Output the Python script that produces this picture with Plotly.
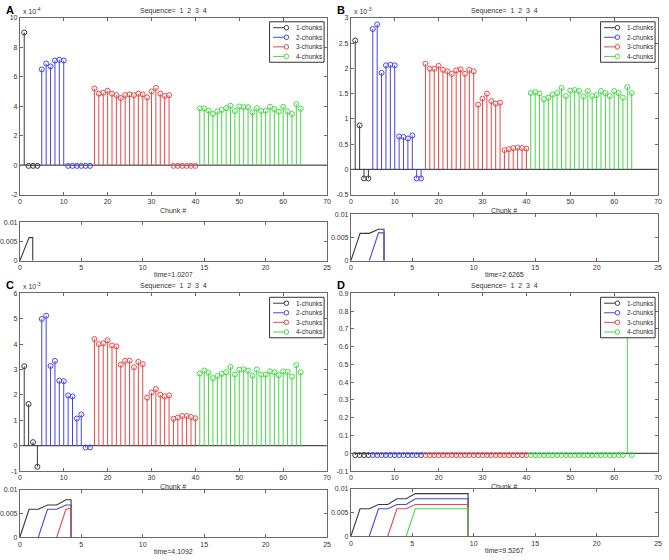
import plotly.graph_objects as go

W, H = 669, 560

# chunk index of each stem group
chunks_1 = [1, 2, 3, 4]
chunks_2 = list(range(5, 17))
chunks_3 = list(range(17, 41))
chunks_4 = list(range(41, 65))

series_names = ["1-chunks", "2-chunks", "3-chunks", "4-chunks"]
series_colors = ["#3a3a3a", "#4646e4", "#e64848", "#48d848"]

# panel A (x 10^-4)
A_1 = [9.0, -0.05, -0.05, -0.05]
A_2 = [6.5, 6.9, 6.7, 7.1, 7.15, 7.1, -0.05, -0.05, -0.05, -0.05, -0.05, -0.05]
A_3 = [5.2, 4.85, 4.9, 5.05, 4.85, 4.75, 4.55, 4.75, 4.8, 4.75, 4.85, 4.8,
       4.6, 5.0, 5.25, 4.85, 4.7, 4.75, -0.05, -0.05, -0.05, -0.05, -0.05, -0.05]
A_4 = [3.85, 3.85, 3.7, 3.47, 3.65, 3.75, 3.87, 4.03, 3.67, 3.98, 3.94, 3.94,
       3.58, 3.87, 3.67, 3.7, 3.96, 3.8, 3.62, 3.96, 3.65, 3.47, 4.14, 3.83]

# panel B (x 10^-3)
B_1 = [2.55, 0.87, -0.18, -0.18]
B_2 = [2.78, 2.87, 1.91, 2.06, 2.07, 2.06, 0.65, 0.64, 0.61, 0.67, -0.18, -0.18]
B_3 = [2.09, 1.99, 1.99, 2.05, 1.97, 1.94, 1.89, 1.96, 1.98, 1.89, 1.97, 1.94,
       1.28, 1.40, 1.50, 1.35, 1.30, 1.32, 0.38, 0.40, 0.42, 0.43, 0.42, 0.41]
B_4 = [1.51, 1.53, 1.50, 1.39, 1.42, 1.48, 1.51, 1.61, 1.45, 1.56, 1.57, 1.55,
       1.44, 1.55, 1.45, 1.47, 1.55, 1.51, 1.45, 1.55, 1.51, 1.42, 1.63, 1.51]

# panel C (x 10^-3)
C_1 = [3.13, 1.64, 0.14, -0.83]
C_2 = [4.99, 5.12, 3.14, 3.34, 2.56, 2.54, 1.98, 1.94, 1.07, 1.23, -0.07, -0.07]
C_3 = [4.2, 4.0, 4.03, 4.15, 3.95, 3.91, 3.19, 3.34, 3.35, 3.09, 3.3, 3.21,
       1.89, 2.09, 2.23, 2.01, 1.94, 1.98, 1.06, 1.11, 1.17, 1.17, 1.13, 1.08]
C_4 = [2.84, 2.96, 2.87, 2.66, 2.74, 2.83, 2.89, 3.10, 2.80, 2.99, 3.01, 2.96,
       2.76, 3.0, 2.80, 2.80, 2.93, 2.89, 2.78, 2.93, 2.91, 2.72, 3.17, 2.89]

# panel D
D_1 = [-0.01] * 4
D_2 = [-0.01] * 12
D_3 = [-0.01] * 24
D_4 = [-0.01] * 22 + [0.78, -0.01]

# lower panels: time courses (time, level) per chunk group
A_t1 = [0, 0.75, 1.05, 1.05]
A_v1 = [0, 0.0060, 0.0060, 0]

B_t1 = [0, 0.75, 1.5, 2.25, 2.7, 2.7]
B_v1 = [0, 0.0059, 0.0059, 0.0068, 0.0068, 0]
B_t2 = [1.5, 2.25, 2.7, 2.7]
B_v2 = [0, 0.0060, 0.0060, 0]

C_t1 = [0, 0.75, 1.5, 2.25, 3.0, 3.75, 4.17, 4.17]
C_v1 = [0, 0.0059, 0.0059, 0.0068, 0.0068, 0.0079, 0.0079, 0]
C_t2 = [1.5, 2.25, 3.0, 3.75, 4.17, 4.17]
C_v2 = [0, 0.0059, 0.0059, 0.0068, 0.0068, 0]
C_t3 = [3.0, 3.75, 4.17, 4.17]
C_v3 = [0, 0.0059, 0.0061, 0]

D_t1 = [0, 0.75, 1.5, 2.25, 3.0, 3.75, 4.5, 5.25, 9.54, 9.54]
D_v1 = [0, 0.0058, 0.0058, 0.0067, 0.0067, 0.0079, 0.0079, 0.0090, 0.0090, 0]
D_t2 = [1.5, 2.25, 3.0, 3.75, 4.5, 5.25, 9.54, 9.54]
D_v2 = [0, 0.0058, 0.0058, 0.0067, 0.0067, 0.0079, 0.0079, 0]
D_t3 = [3.0, 3.75, 4.5, 5.25, 9.54, 9.54]
D_v3 = [0, 0.0058, 0.0058, 0.0067, 0.0067, 0]
D_t4 = [4.5, 5.25, 9.54, 9.54]
D_v4 = [0, 0.0058, 0.0058, 0]

time_labels = ["time=1.0207", "time=2.6265", "time=4.1092", "time=9.5267"]
panel_letters = ["A", "B", "C", "D"]
exponents = ["-4", "-3", "-3", None]
top_ranges = [(-2, 10, 2), (-0.5, 3, 0.5), (-1, 6, 1), (-0.1, 0.9, 0.1)]

# pixel boxes (left, right, top, bottom) of top / bottom axes per panel
top_boxes = [(18, 328, 14, 193), (352, 662, 14, 193),
             (18, 328, 293, 473), (352, 662, 293, 473)]
bot_boxes = [(18, 328, 221, 260), (352, 662, 213, 260),
             (18, 328, 492, 540), (352, 662, 491, 539)]

FONT = "Liberation Sans, Arial, sans-serif"
AXCOL = "#6a6a6a"
TXT = "#333"


def px(x):
    return x / W


def py(y):
    return 1 - y / H


def label(text, x, y, size=7, xanchor="center", color=TXT, family=FONT):
    return dict(text=text, x=px(x), y=py(y), xref="paper", yref="paper",
                xanchor=xanchor, yanchor="middle", showarrow=False,
                font=dict(family=family, size=size, color=color))


def stem_xy(xs, vals):
    sx, sy = [], []
    for x, v in zip(xs, vals):
        sx += [x, x, None]
        sy += [0, v, None]
    return sx, sy


def fmt(v):
    s = f"{v:.3f}".rstrip("0").rstrip(".")
    return "0" if s in ("-0", "0") else s


fig = go.Figure()

stem_data = [
    [A_1, A_2, A_3, A_4],
    [B_1, B_2, B_3, B_4],
    [C_1, C_2, C_3, C_4],
    [D_1, D_2, D_3, D_4],
]
time_data = [
    [(A_t1, A_v1)],
    [(B_t1, B_v1), (B_t2, B_v2)],
    [(C_t1, C_v1), (C_t2, C_v2), (C_t3, C_v3)],
    [(D_t1, D_v1), (D_t2, D_v2), (D_t3, D_v3), (D_t4, D_v4)],
]
groups = [chunks_1, chunks_2, chunks_3, chunks_4]

layout_axes = {}
annotations = []
shapes = []

for p in range(4):
    ti = 2 * p + 1
    bi = 2 * p + 2
    xt, yt = ("x" if ti == 1 else f"x{ti}"), ("y" if ti == 1 else f"y{ti}")
    xb, yb = f"x{bi}", f"y{bi}"

    # stems
    for g, vals, color in zip(groups, stem_data[p], series_colors):
        sx, sy = stem_xy(g, vals)
        fig.add_trace(go.Scatter(x=sx, y=sy, mode="lines", xaxis=xt, yaxis=yt,
                                 line=dict(color=color, width=1),
                                 showlegend=False, hoverinfo="skip"))
        fig.add_trace(go.Scatter(x=g, y=vals, mode="markers", xaxis=xt, yaxis=yt,
                                 marker=dict(symbol="circle-open", size=5,
                                             color=color, line=dict(width=1)),
                                 showlegend=False))

    # time courses
    for (t, v), color in zip(time_data[p], series_colors):
        fig.add_trace(go.Scatter(x=t, y=v, mode="lines", xaxis=xb, yaxis=yb,
                                 line=dict(color=color, width=1.1),
                                 showlegend=False))

    l, r, t, b = top_boxes[p]
    y0, y1, dy = top_ranges[p]
    yvals = [round(y0 + k * dy, 3) for k in range(int(round((y1 - y0) / dy)) + 1)]
    common = dict(showline=True, mirror="ticks", linecolor=AXCOL, linewidth=1,
                  ticks="inside", ticklen=3, tickcolor=AXCOL, showgrid=False,
                  zeroline=False, tickfont=dict(family=FONT, size=7, color="#333"))
    layout_axes["xaxis" if ti == 1 else f"xaxis{ti}"] = dict(
        domain=[px(l), px(r)], anchor=yt, range=[0, 70],
        tickvals=list(range(0, 71, 10)), **common)
    layout_axes["yaxis" if ti == 1 else f"yaxis{ti}"] = dict(
        domain=[py(b), py(t)], anchor=xt, range=[y0, y1],
        tickvals=yvals, ticktext=[fmt(v) for v in yvals], **common)

    lb, rb, tb, bb = bot_boxes[p]
    layout_axes[f"xaxis{bi}"] = dict(
        domain=[px(lb), px(rb)], anchor=yb, range=[0, 25],
        tickvals=list(range(0, 26, 5)), **common)
    layout_axes[f"yaxis{bi}"] = dict(
        domain=[py(bb), py(tb)], anchor=xb, range=[0, 0.01],
        tickvals=[0, 0.005, 0.01], ticktext=["0", "0.005", "0.01"], **common)

    # baseline of the stem plot
    shapes.append(dict(type="line", xref=f"{xt} domain", yref=yt, x0=0, x1=1,
                       y0=0, y1=0, line=dict(color="#222", width=1), layer="below"))

    cx = (l + r) / 2
    annotations += [
        label("Sequence=  1  2  3  4", cx, t - 7),
        label("Chunk #", cx, b + 16),
        label(time_labels[p], (lb + rb) / 2, bb + 14),
        label(f"<b>{panel_letters[p]}</b>", l - 16, t - 8, size=11,
              xanchor="left", color="black", family="Liberation Sans, Arial"),
    ]
    if exponents[p]:
        annotations.append(label(f"x 10<sup>{exponents[p]}</sup>", l + 1, t - 7,
                                 xanchor="left"))

    # legend box drawn inside the stem axes
    shapes.append(dict(type="rect", xref="paper", yref="paper",
                       x0=px(r - 58), x1=px(r - 3), y0=py(t + 45), y1=py(t + 4),
                       line=dict(color="#333", width=1), fillcolor="white", layer="above"))
    for i, (name, color) in enumerate(zip(series_names, series_colors)):
        yy = t + 10 + i * 9.7
        shapes.append(dict(type="line", xref="paper", yref="paper",
                           x0=px(r - 54.5), x1=px(r - 41), y0=py(yy), y1=py(yy),
                           line=dict(color=color, width=1), layer="above"))
        shapes.append(dict(type="circle", xref="paper", yref="paper",
                           x0=px(r - 43.3), x1=px(r - 38.7), y0=py(yy + 2.3),
                           y1=py(yy - 2.3), line=dict(color=color, width=1),
                           fillcolor="white", layer="above"))
        annotations.append(label(name, r - 33, yy, size=6.5, xanchor="left"))

fig.update_layout(
    width=W, height=H,
    margin=dict(l=0, r=0, t=0, b=0),
    plot_bgcolor="white", paper_bgcolor="white",
    showlegend=False,
    annotations=annotations,
    shapes=shapes,
    **layout_axes,
)

fig.write_html("out.html", config={"displayModeBar": False},
               post_script="document.body.style.margin='0';")
